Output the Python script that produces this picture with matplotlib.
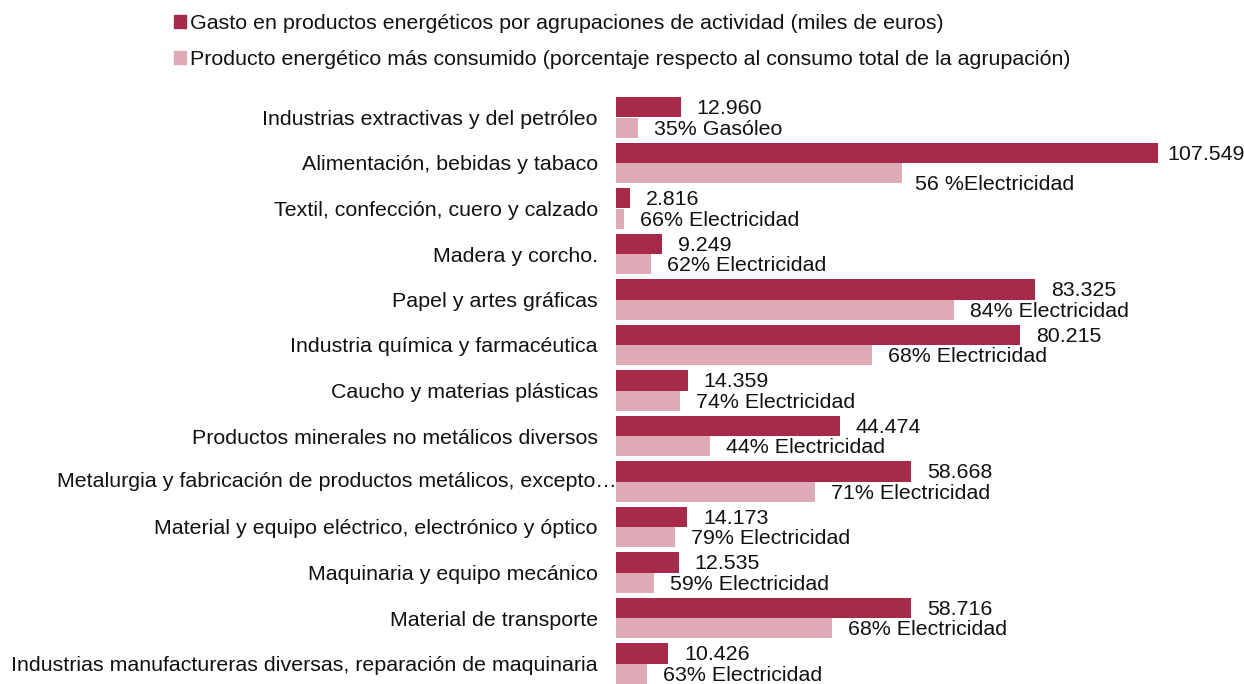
import matplotlib.pyplot as plt
from matplotlib.patches import Patch

plt.rcParams['font.family'] = ['Liberation Sans', 'DejaVu Sans']

# === Datos ===
agrupaciones = [
    "Industrias extractivas y del petróleo",
    "Alimentación, bebidas y tabaco",
    "Textil, confección, cuero y calzado",
    "Madera y corcho.",
    "Papel y artes gráficas",
    "Industria química y farmacéutica",
    "Caucho y materias plásticas",
    "Productos minerales no metálicos diversos",
    "Metalurgia y fabricación de productos metálicos, excepto…",
    "Material y equipo eléctrico, electrónico y óptico",
    "Maquinaria y equipo mecánico",
    "Material de transporte",
    "Industrias manufactureras diversas, reparación de maquinaria",
]
gasto = [12960, 107549, 2816, 9249, 83325, 80215, 14359, 44474, 58668, 14173, 12535, 58716, 10426]
producto = [4530, 56900, 1630, 6990, 67100, 50800, 12800, 18800, 39600, 11800, 7580, 42960, 6310]
etiquetas_producto = [
    "35% Gasóleo", "56 %Electricidad", "66% Electricidad", "62% Electricidad",
    "84% Electricidad", "68% Electricidad", "74% Electricidad", "44% Electricidad",
    "71% Electricidad", "79% Electricidad", "59% Electricidad", "68% Electricidad",
    "63% Electricidad",
]
leyenda = [
    "Gasto en productos energéticos por agrupaciones de actividad (miles de euros)",
    "Producto energético más consumido (porcentaje respecto al consumo total de la agrupación)",
]

color_oscuro = "#A82A4A"
color_claro = "#DEAAB6"
texto = "#111111"
fs = 15.4

W, H = 1244, 684
fig = plt.figure(figsize=(W / 100, H / 100), dpi=100)
# eje: izquierda en x=615.5 px, filas de 45.5 px empezando en y=94.75 px
ax = fig.add_axes([615.5 / W, (H - 686.25) / H, 1 - 615.5 / W, 591.5 / H])

n = len(agrupaciones)
pos = list(range(n))
h = 0.45
ax.barh([p - h / 2 for p in pos], gasto, height=h, color=color_oscuro)
ax.barh([p + h / 2 for p in pos], producto, height=h, color=color_claro)

ax.set_xlim(0, 124700)
ax.set_ylim(n - 0.5, -0.5)
ax.set_yticks(pos)
# la etiqueta truncada (…) llega hasta el borde de las barras
etiquetas_eje = [a if not a.endswith("…") else "" for a in agrupaciones]
ax.set_yticklabels(etiquetas_eje, fontsize=fs, color=texto)
ax.tick_params(axis='y', length=0, pad=12.6)
for i, a in enumerate(agrupaciones):
    if a.endswith("…"):
        ax.annotate(a, (0, i), xycoords=('axes fraction', 'data'), xytext=(0.5, 0),
                    textcoords='offset points', ha='right', va='center',
                    fontsize=fs, color=texto)
ax.set_xticks([])
for s in ax.spines.values():
    s.set_visible(False)

# etiquetas de valores
for i, (g, p, lab) in enumerate(zip(gasto, producto, etiquetas_producto)):
    txt_g = f"{g:,}".replace(",", ".")
    dx_g = 7 if i == 1 else 11.5
    ax.annotate(txt_g, (g, i - h / 2), xytext=(dx_g, -1), textcoords='offset points',
                ha='left', va='center', fontsize=fs, color=texto)
    dx_p, dy_p = (9.5, -8) if i == 1 else (11.5, -1)
    ax.annotate(lab, (p, i + h / 2), xytext=(dx_p, dy_p), textcoords='offset points',
                ha='left', va='center', fontsize=fs, color=texto)

handles = [Patch(color=color_oscuro), Patch(color=color_claro)]
fig.legend(handles, leyenda, loc='upper left', bbox_to_anchor=(174 / W, 1 - 14 / H),
           frameon=False, fontsize=fs, handlelength=0.55, handleheight=0.55,
           handletextpad=0.2, labelspacing=0.78, borderpad=0, borderaxespad=0,
           labelcolor=texto)

fig.savefig("out.png", dpi=100)
